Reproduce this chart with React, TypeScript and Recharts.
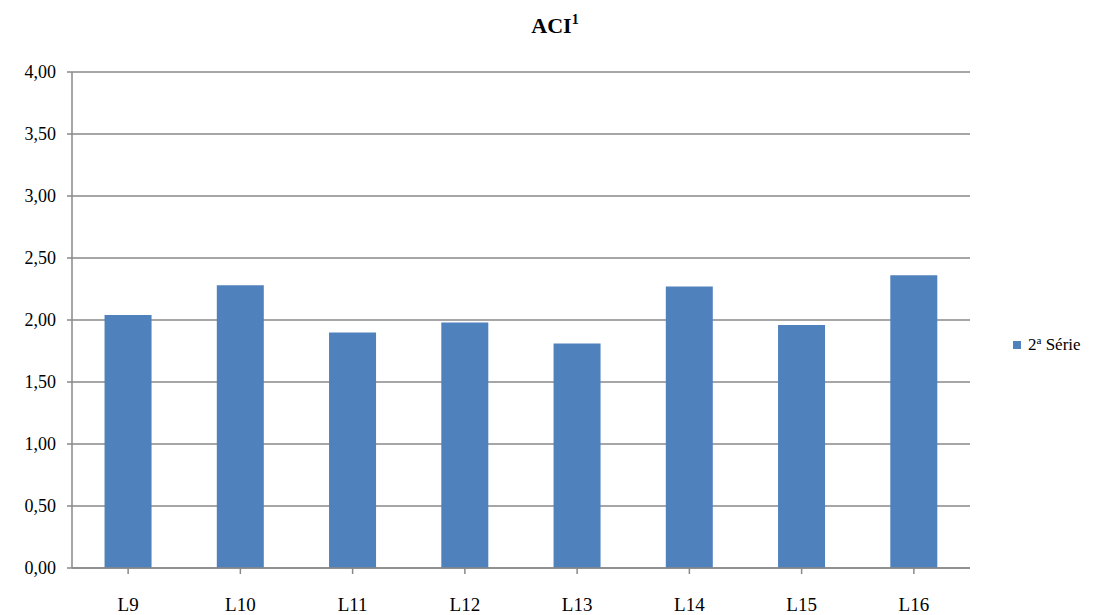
import { BarChart, Bar, XAxis, YAxis, CartesianGrid } from 'recharts';

const categories = ['L9', 'L10', 'L11', 'L12', 'L13', 'L14', 'L15', 'L16'];
const serie2 = [2.04, 2.28, 1.9, 1.98, 1.81, 2.27, 1.96, 2.36];
const yTicks = [0, 0.5, 1, 1.5, 2, 2.5, 3, 3.5, 4];

const data = categories.map((name, i) => ({ name, value: serie2[i] }));

const font = 'Liberation Serif, Tinos, Times New Roman, DejaVu Serif, serif';
const fmt = (v: number) => v.toFixed(2).replace('.', ',');

export default function App() {
  return (
    <div style={{ position: 'absolute', left: 0, top: 0, width: 1099, height: 615, background: '#fff', fontFamily: font }}>
      <div
        style={{
          position: 'absolute',
          top: 13,
          left: 0,
          width: 1110,
          textAlign: 'center',
          fontFamily: font,
          fontWeight: 'bold',
          fontSize: 22,
        }}
      >
        ACI<sup style={{ fontSize: 14, position: 'relative', top: -1, verticalAlign: 'top' }}>1</sup>
      </div>
      <BarChart
        width={1099}
        height={615}
        data={data}
        margin={{ top: 72, right: 129, bottom: 0, left: 12 }}
        barCategoryGap="29%"
      >
        <CartesianGrid vertical={false} stroke="#888" strokeWidth={1.5} />
        <XAxis
          dataKey="name"
          height={47}
          stroke="#888"
          strokeWidth={1.5}
          tickSize={6}
          tickMargin={24}
          tick={{ fill: '#000', fontFamily: font, fontSize: 19 }}
          interval={0}
        />
        <YAxis
          width={60}
          domain={[0, 4]}
          ticks={yTicks}
          tickFormatter={fmt}
          stroke="#888"
          strokeWidth={1.5}
          tickSize={5}
          tickMargin={11}
          tick={{ fill: '#000', fontFamily: font, fontSize: 18 }}
          interval={0}
        />
        <Bar dataKey="value" name="2ª Série" fill="#4F81BD" isAnimationActive={false} />
      </BarChart>
      <div
        style={{
          position: 'absolute',
          left: 1013,
          top: 335,
          display: 'flex',
          alignItems: 'center',
          fontFamily: font,
          fontSize: 17,
          color: '#000',
        }}
      >
        <span style={{ width: 8, height: 8, background: '#4F81BD', display: 'inline-block', marginRight: 7 }} />
        <span>
          2<sup style={{ fontSize: 11, verticalAlign: 'top', position: 'relative', top: -1 }}>a</sup> Série
        </span>
      </div>
    </div>
  );
}
